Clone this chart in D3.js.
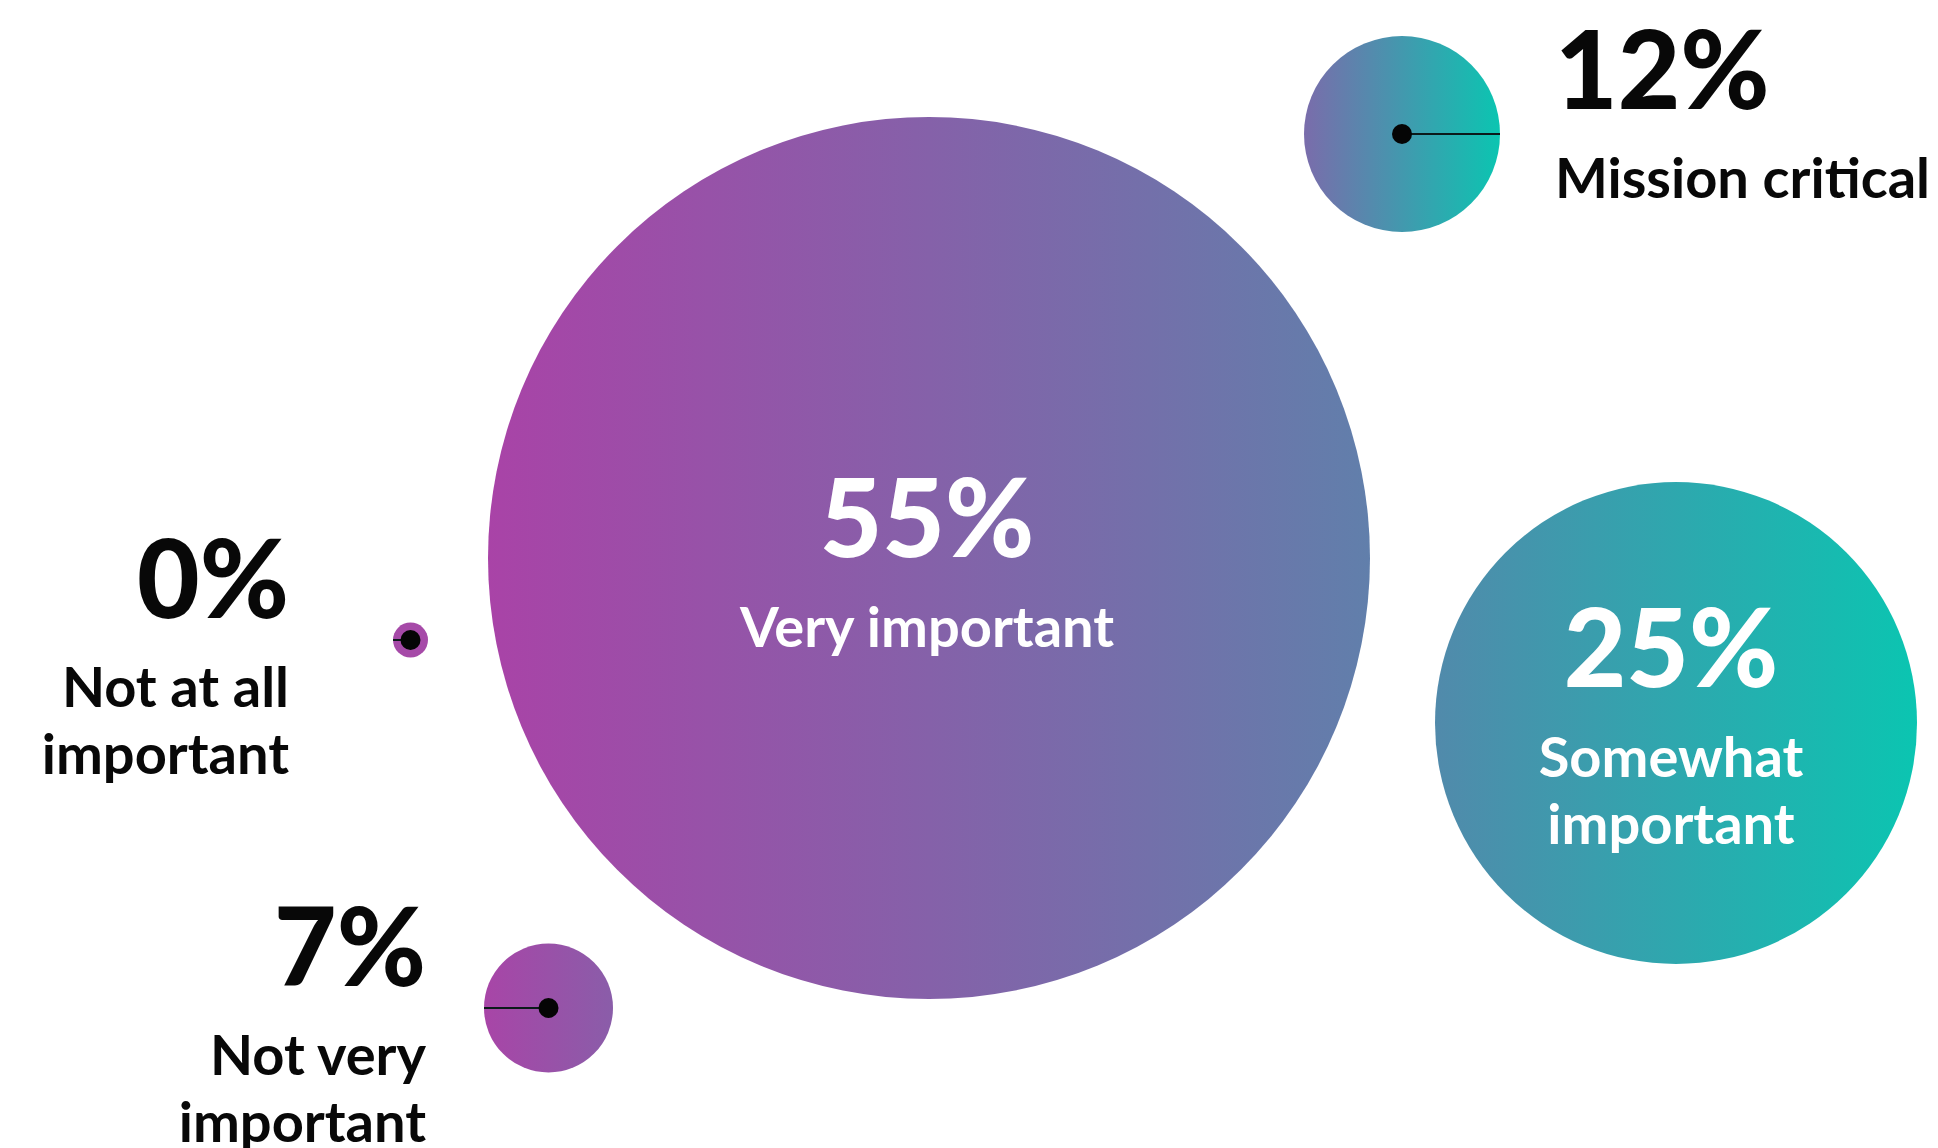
<!DOCTYPE html>
<html>
<head>
<meta charset="utf-8">
<script src="https://cdn.jsdelivr.net/npm/d3@7"></script>
<style>
  body { margin: 0; background: #fff; }
  svg text { font-family: Lato, "Open Sans", sans-serif; }
</style>
</head>
<body>
<div id="chart"></div>
<script>
// survey answers, in the order they are laid out left to right
const categories = ["Not at all important", "Not very important", "Very important", "Mission critical", "Somewhat important"];
const values = [0, 7, 55, 12, 25];
const labelLines = [["Not at all", "important"], ["Not very", "important"], ["Very important"], ["Mission critical"], ["Somewhat", "important"]];

const W = 1938, H = 1148;

const svg = d3.select("#chart")
    .append("svg")
    .attr("width", W)
    .attr("height", H)
    .attr("viewBox", `0 0 ${W} ${H}`);

// bubble size, tuned to how the designer sized them
const rScale = d3.scaleLinear()
    .domain([0, 7, 12, 25, 55])
    .range([17.5, 64.5, 98, 241, 441]);

// bubble centres of the free layout
const centre = d3.scaleOrdinal()
    .domain(categories)
    .range([[410.5, 640], [548.5, 1008], [929, 558], [1402, 134], [1676, 723]]);

// where the text goes: inside, left of the bubble or right of it
const place = d3.scaleOrdinal()
    .domain(categories)
    .range(["left", "left", "inside", "right", "inside"]);

const gradColors = d3.scaleOrdinal()
    .domain(categories)
    .range([["#a64aa8", "#a64aa8"], ["#a845a7", "#8a5da9"], ["#a943a7", "#617fab"], ["#7a6cab", "#0bc5b1"], ["#518aab", "#0bc5b1"]]);

const defs = svg.append("defs");
categories.forEach((c, i) => {
    const g = defs.append("linearGradient")
        .attr("id", "grad" + i)
        .attr("x1", "0%").attr("x2", "100%")
        .attr("y1", "0%").attr("y2", "0%");
    g.append("stop").attr("offset", "0%").attr("stop-color", gradColors(c)[0]);
    g.append("stop").attr("offset", "100%").attr("stop-color", gradColors(c)[1]);
});

const data = categories.map((c, i) => ({ cat: c, value: values[i], lines: labelLines[i], i: i }));

const bubble = svg.selectAll(".bubble")
    .data(data)
    .enter().append("g")
    .attr("class", "bubble")
    .attr("transform", d => `translate(${centre(d.cat)[0]},${centre(d.cat)[1]})`);

bubble.append("circle")
    .attr("r", d => rScale(d.value))
    .attr("fill", d => `url(#grad${d.i})`);

// pointer line + dot for the bubbles labelled outside
const outside = bubble.filter(d => place(d.cat) !== "inside");

outside.append("line")
    .attr("x1", 0)
    .attr("x2", d => place(d.cat) === "right" ? rScale(d.value) : -rScale(d.value))
    .attr("y1", 0).attr("y2", 0)
    .attr("stroke", "#0b1a1a")
    .attr("stroke-width", 2);

outside.append("circle")
    .attr("r", 10)
    .attr("fill", "#050505");

// label text
const numSize = 108, lblSize = 56, lineGap = 67;

bubble.each(function(d) {
    const g = d3.select(this);
    const p = place(d.cat);
    const r = rScale(d.value);
    let x, anchor, fill, yNum;
    if (p === "inside") {
        x = d.value === 25 ? -5 : -2; anchor = "middle"; fill = "#fff";
        yNum = d.lines.length > 1 ? -36 : -1;
    } else if (p === "left") {
        x = -r - (d.value === 0 ? 104 : 58); anchor = "end"; fill = "#080808";
        yNum = -22;
    } else {
        x = r + 55; anchor = "start"; fill = "#080808";
        yNum = -25;
    }

    g.append("text")
        .attr("x", x)
        .attr("y", yNum)
        .attr("text-anchor", anchor)
        .attr("fill", fill)
        .style("font-size", numSize + "px")
        .style("font-weight", 900)
        .text(d.value + "%");

    d.lines.forEach((line, k) => {
        g.append("text")
            .attr("x", x)
            .attr("y", yNum + (p === "inside" ? 90 : 89) + k * lineGap)
            .attr("text-anchor", anchor)
            .attr("fill", fill)
            .style("font-size", lblSize + "px")
            .style("font-weight", 700)
            .text(line);
    });
});
</script>
</body>
</html>
